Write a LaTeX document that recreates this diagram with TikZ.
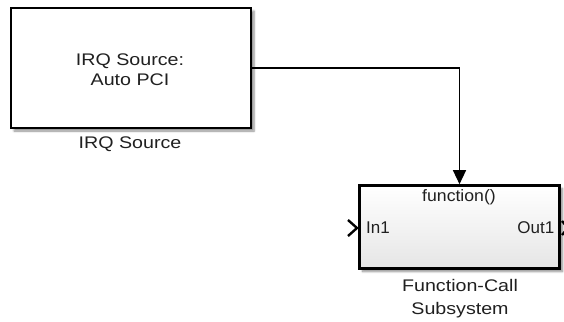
\documentclass[tikz,border=0pt]{standalone}
\usepackage{fontspec}
\setmainfont{Liberation Sans}
\newfontfamily\widesans[FakeStretch=1.17]{Liberation Sans}
\newfontfamily\midsans[FakeStretch=1.07]{Liberation Sans}
\usetikzlibrary{arrows.meta,shadows.blur}
\definecolor{inkgrey}{HTML}{202020}
\begin{document}
\begin{tikzpicture}[x=1pt,y=-1pt,
  txt/.style={inner sep=0pt,text=inkgrey,font=\widesans\fontsize{16.8}{20}\selectfont},
  porttxt/.style={inner sep=0pt,text=inkgrey,font=\fontsize{17}{20}\selectfont},
  srcbox/.style={draw=black,line width=1.3pt,fill=white,minimum width=240pt,minimum height=120pt,inner sep=0pt,
    blur shadow={shadow xshift=3pt,shadow yshift=-3pt,shadow blur steps=6,shadow opacity=45}},
  subbox/.style={draw=black,line width=2.6pt,top color=white,bottom color=black!10,minimum width=200pt,minimum height=83pt,inner sep=0pt,
    blur shadow={shadow xshift=3pt,shadow yshift=-3pt,shadow blur steps=6,shadow opacity=45}},
  sig/.style={line width=1.3pt,-{Triangle[width=13pt,length=14pt]}},
  port/.style={line width=2.4pt}]
\useasboundingbox (0,0) rectangle (564,321);
\node[srcbox] (src) at (131,68) {};
\node[txt,align=center] (srctxt) at (130,69.5) {IRQ Source:\\Auto PCI};
\node[txt] (srclbl) at (130,144.5) {IRQ Source};
\node[subbox] (sub) at (459.5,227) {};
\node[porttxt,font=\midsans\fontsize{16.5}{20}\selectfont] (fn) at (459,197) {function()};
\node[porttxt,anchor=west] (in1) at (366,228) {In1};
\node[porttxt,anchor=east] (out1) at (554.5,228) {Out1};
\node[txt,align=center,font=\widesans\fontsize{16.8}{23}\selectfont] (sublbl) at (460,299) {Function-Call\\Subsystem};
\coordinate (bend) at (sub.north |- src.east);
\draw[sig] (src.east) -- (bend) -- (sub.north);
\coordinate (ia) at (348,220);
\coordinate (ib) at (357,228);
\coordinate (ic) at (348,236);
\draw[port] (ia) -- (ib) -- (ic);
\coordinate (oa) at (562,221);
\coordinate (ob) at (568,228);
\coordinate (oc) at (562,235);
\draw[port] (oa) -- (ob) -- (oc);
\end{tikzpicture}
\end{document}
